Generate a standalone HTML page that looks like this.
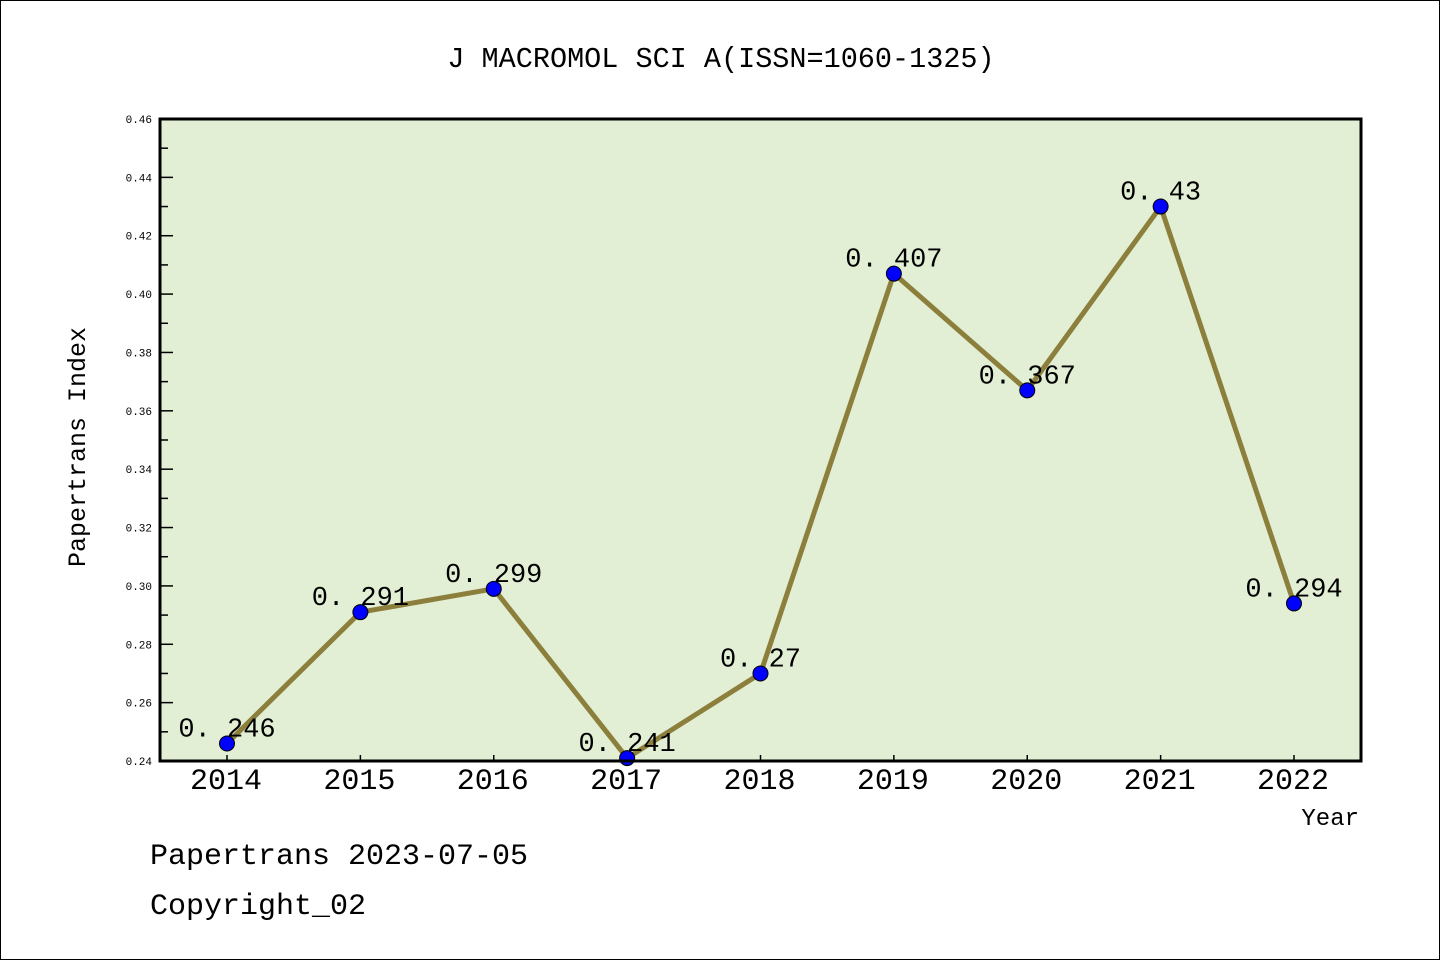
<!DOCTYPE html>
<html><head><meta charset="utf-8"><style>
body{margin:0;background:#fff}
svg{display:block}
text{font-family:"Liberation Mono","WenQuanYi Zen Hei",monospace;fill:#000}
</style></head><body>
<svg id="chart" width="1440" height="960" xmlns="http://www.w3.org/2000/svg">
<rect x="0.5" y="0.5" width="1439" height="959" fill="#fff" stroke="#000"/>
<text x="721" y="67" font-size="28.5" text-anchor="middle">J MACROMOL SCI A(ISSN=1060-1325)</text>
<rect x="160" y="119" width="1201" height="642" fill="#e2efd5"/>
<g id="yaxis"></g>
<g id="xaxis"></g>
<g id="series"></g>
<rect x="160" y="119" width="1201" height="642" fill="none" stroke="#000" stroke-width="3"/>
<text transform="translate(85,447) rotate(-90)" font-size="25" text-anchor="middle">Papertrans Index</text>
<text x="1359" y="825" font-size="24" text-anchor="end">Year</text>
<text x="150" y="864" font-size="30">Papertrans 2023-07-05</text>
<text x="150" y="914" font-size="30">Copyright_02</text>
</svg>
<script>
const years = ["2014","2015","2016","2017","2018","2019","2020","2021","2022"];
const values = [0.246,0.291,0.299,0.241,0.27,0.407,0.367,0.43,0.294];
const labels = ["0.246","0.291","0.299","0.241","0.27","0.407","0.367","0.43","0.294"];
const yTicks = [0.24,0.26,0.28,0.30,0.32,0.34,0.36,0.38,0.40,0.42,0.44,0.46];
const NS="http://www.w3.org/2000/svg";
const x0=227,x1=1294,yMin=0.24,yMax=0.46,py0=761,py1=119;
const xs=i=>x0+(x1-x0)*i/(years.length-1);
const ys=v=>py0-(v-yMin)/(yMax-yMin)*(py0-py1);
function mk(tag,attrs,parent){const e=document.createElementNS(NS,tag);for(const k in attrs)e.setAttribute(k,attrs[k]);parent.appendChild(e);return e;}
const ya=document.getElementById('yaxis'),xa=document.getElementById('xaxis'),sg=document.getElementById('series');
yTicks.forEach((t,i)=>{
  const y=ys(t);
  const tk=mk('line',{x1:160,x2:173,y1:y,y2:y,stroke:'#000','stroke-width':1.5},ya);
  
  
  const lb=mk('text',{x:152,y:y+4,'font-size':11,'text-anchor':'end','font-family':'Liberation Sans, sans-serif'},ya);
  
  
  lb.textContent=t.toFixed(2);
  if(i<yTicks.length-1){
    const ym=ys(t+0.01);
    const mt=mk('line',{x1:160,x2:168,y1:ym,y2:ym,stroke:'#000','stroke-width':1.5},ya);
    
    
  }
});
years.forEach((yr,i)=>{
  const x=xs(i);
  const tk=mk('line',{x1:x,x2:x,y1:761,y2:755,stroke:'#000','stroke-width':1.5},xa);
  
  
  const lb=mk('text',{x:x-1,y:789,'font-size':30,'text-anchor':'middle'},xa);
  
  
  lb.textContent=yr;
});
const pl=mk('polyline',{points:values.map((v,i)=>xs(i)+','+ys(v)).join(' '),fill:'none',stroke:'#8c7f3c','stroke-width':5,'stroke-linejoin':'round'},sg);


values.forEach((v,i)=>{
  const c=mk('circle',{cx:xs(i),cy:ys(v),r:7.5,fill:'#0000ff',stroke:'#000','stroke-width':1},sg);
  
  
});
values.forEach((v,i)=>{
  const t=mk('text',{x:xs(i),y:ys(v)-7,'font-size':27,'text-anchor':'middle'},sg);
  
  
  t.textContent=labels[i].replace('.','. ');
});
</script>
</body></html>
